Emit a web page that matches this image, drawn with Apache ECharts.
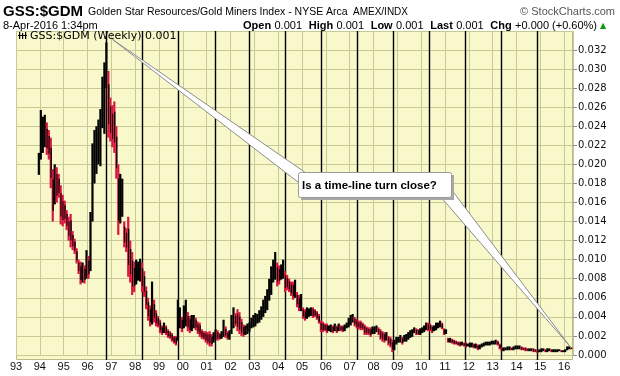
<!DOCTYPE html>
<html><head><meta charset="utf-8">
<script src="https://cdn.jsdelivr.net/npm/echarts@6/dist/echarts.min.js"></script>
<style>html,body{margin:0;padding:0;background:#fff;}#c{width:620px;height:376px;}</style>
</head><body><div id="c"></div><script>
// ---- data (monthly high / low) ----
const firstYear = 1993, firstMonth = 11; // first bar: Dec 1993
const high = [
  0.0212,
  0.0257,0.0250,0.0252,0.0244,0.0236,0.0228,0.0195,0.0200,0.0197,0.0190,0.0178,0.0168, // 1994
  0.0162,0.0152,0.0145,0.0148,0.0130,0.0122,0.0112,0.0100,0.0098,0.0097,0.0094,0.0110, // 1995
  0.0104,0.0150,0.0222,0.0236,0.0240,0.0247,0.0258,0.0292,0.0307,0.0328,0.0298,0.0270, // 1996
  0.0262,0.0266,0.0240,0.0200,0.0190,0.0185,0.0140,0.0133,0.0145,0.0120,0.0108,0.0098, // 1997
  0.0100,0.0098,0.0101,0.0097,0.0088,0.0072,0.0060,0.0052,0.0077,0.0058,0.0047,0.0041, // 1998
  0.0037,0.0031,0.0034,0.0031,0.0027,0.0025,0.0023,0.0020,0.0020,0.0058,0.0050,0.0040, // 1999
  0.0052,0.0058,0.0045,0.0041,0.0042,0.0042,0.0039,0.0035,0.0034,0.0027,0.0025,0.0025, // 2000
  0.0024,0.0025,0.0022,0.0024,0.0027,0.0026,0.0023,0.0025,0.0037,0.0030,0.0025,0.0026, // 2001
  0.0042,0.0050,0.0044,0.0048,0.0045,0.0038,0.0032,0.0031,0.0033,0.0034,0.0039,0.0042, // 2002
  0.0044,0.0043,0.0047,0.0051,0.0058,0.0062,0.0069,0.0080,0.0093,0.0100,0.0108,0.0097, // 2003
  0.0094,0.0095,0.0100,0.0088,0.0084,0.0080,0.0077,0.0077,0.0079,0.0066,0.0063,0.0064, // 2004
  0.0050,0.0048,0.0050,0.0049,0.0050,0.0050,0.0048,0.0046,0.0043,0.0036,0.0035,0.0033, // 2005
  0.0033,0.0031,0.0032,0.0031,0.0033,0.0031,0.0033,0.0031,0.0031,0.0032,0.0034,0.0039, // 2006
  0.0042,0.0043,0.0040,0.0038,0.0036,0.0036,0.0034,0.0032,0.0030,0.0029,0.0029,0.0030, // 2007
  0.0030,0.0031,0.0029,0.0027,0.0025,0.0024,0.0024,0.0020,0.0019,0.0016,0.0016,0.0019, // 2008
  0.0019,0.0021,0.0019,0.0021,0.0022,0.0024,0.0026,0.0027,0.0029,0.0028,0.0027,0.0028, // 2009
  0.0029,0.0031,0.0034,0.0034,0.0033,0.0031,0.0031,0.0034,0.0034,0.0036,0.0034,0.0028, // 2010
  0.0027,0.0018,0.0018,0.0017,0.0016,0.0015,0.0014,0.0014,0.0014,0.0013,0.0013,0.0012, // 2011
  0.0013,0.0013,0.0012,0.0012,0.0011,0.0011,0.0012,0.0013,0.0014,0.0014,0.0014,0.0015, // 2012
  0.0015,0.0016,0.0015,0.0012,0.0008,0.0008,0.0008,0.0009,0.0009,0.0008,0.0009,0.0010, // 2013
  0.0010,0.0010,0.0009,0.0008,0.0008,0.0007,0.0007,0.0007,0.0007,0.0006,0.0005,0.0006, // 2014
  0.0007,0.0007,0.0006,0.0007,0.0007,0.0006,0.0006,0.0006,0.0006,0.0006,0.0005,0.0005, // 2015
  0.0006,0.0009,0.0009,0.0008                                                          // 2016
];
const low = [
  0.0189,
  0.0205,0.0212,0.0218,0.0210,0.0205,0.0175,0.0140,0.0158,0.0160,0.0165,0.0137,0.0135, // 1994
  0.0138,0.0131,0.0120,0.0113,0.0110,0.0106,0.0096,0.0085,0.0074,0.0076,0.0075,0.0080, // 1995
  0.0080,0.0088,0.0140,0.0180,0.0190,0.0200,0.0198,0.0238,0.0232,0.0280,0.0228,0.0224, // 1996
  0.0218,0.0212,0.0185,0.0126,0.0138,0.0145,0.0113,0.0108,0.0082,0.0076,0.0063,0.0066, // 1997
  0.0074,0.0078,0.0077,0.0066,0.0061,0.0048,0.0036,0.0030,0.0032,0.0034,0.0030,0.0029, // 1998
  0.0023,0.0021,0.0023,0.0021,0.0018,0.0017,0.0014,0.0012,0.0010,0.0015,0.0028,0.0024, // 1999
  0.0028,0.0030,0.0025,0.0023,0.0025,0.0028,0.0026,0.0022,0.0019,0.0017,0.0016,0.0013, // 2000
  0.0011,0.0009,0.0009,0.0013,0.0016,0.0015,0.0016,0.0017,0.0019,0.0018,0.0016,0.0016, // 2001
  0.0022,0.0028,0.0030,0.0025,0.0022,0.0020,0.0019,0.0021,0.0022,0.0024,0.0028,0.0029, // 2002
  0.0030,0.0033,0.0034,0.0037,0.0040,0.0044,0.0047,0.0057,0.0063,0.0076,0.0079,0.0072, // 2003
  0.0074,0.0079,0.0080,0.0066,0.0068,0.0066,0.0062,0.0058,0.0060,0.0050,0.0046,0.0046, // 2004
  0.0038,0.0036,0.0038,0.0040,0.0041,0.0039,0.0040,0.0037,0.0033,0.0024,0.0024,0.0025, // 2005
  0.0023,0.0025,0.0024,0.0023,0.0025,0.0023,0.0025,0.0025,0.0024,0.0025,0.0028,0.0029, // 2006
  0.0031,0.0034,0.0030,0.0028,0.0027,0.0026,0.0026,0.0021,0.0021,0.0021,0.0019,0.0022, // 2007
  0.0022,0.0024,0.0021,0.0016,0.0014,0.0013,0.0015,0.0010,0.0008,0.0003,0.0005,0.0011, // 2008
  0.0013,0.0013,0.0011,0.0014,0.0014,0.0016,0.0018,0.0019,0.0023,0.0021,0.0021,0.0021, // 2009
  0.0023,0.0024,0.0026,0.0025,0.0025,0.0023,0.0025,0.0026,0.0028,0.0029,0.0027,0.0021, // 2010
  0.0022,0.0013,0.0013,0.0012,0.0011,0.0011,0.0010,0.0009,0.0010,0.0009,0.0008,0.0009, // 2011
  0.0008,0.0008,0.0007,0.0007,0.0005,0.0006,0.0008,0.0009,0.0010,0.0010,0.0010,0.0011, // 2012
  0.0011,0.0011,0.0010,0.0006,0.0004,0.0004,0.0005,0.0005,0.0005,0.0005,0.0005,0.0006, // 2013
  0.0006,0.0006,0.0005,0.0005,0.0004,0.0004,0.0004,0.0004,0.0003,0.0003,0.0002,0.0003, // 2014
  0.0003,0.0004,0.0003,0.0003,0.0004,0.0003,0.0003,0.0003,0.0003,0.0004,0.0003,0.0003, // 2015
  0.0003,0.0005,0.0006,0.0006                                                          // 2016
];
// author's vertical "time-lines" (decimal years)
const timeLines = [1996.79, 1998.30, 1999.81, 2001.33, 2002.79, 2004.30, 2005.81,
                   2007.32, 2008.83, 2010.33, 2011.84, 2013.35, 2014.88];
// callout anchors [decimal year, value]
const calloutTips = [[1997.05, 0.0331], [2016.26, 0.00085]];
const calloutText = 'Is a time-line turn close?';
const xMin = 1993, xMax = 2016.37, yMin = 0, yMax = 0.03399, yStep = 0.002;

const titleSym = 'GSS:$GDM';
const titleName = 'Golden Star Resources/Gold Miners Index - NYSE Arca';
const titleExch = 'AMEX/INDX';
const dateText = '8-Apr-2016 1:34pm';
const legendText = 'GSS:$GDM (Weekly) 0.001';

// ---- build ----
const RED = '#D8173F', BLACK = '#000000';
const bars = [];
{
  let y = firstYear, m = firstMonth;
  for (let i = 0; i < high.length; i++) {
    const t = y + (m + 0.5) / 12;
    const mid = (high[i] + low[i]) / 2;
    const prev = i ? (high[i - 1] + low[i - 1]) / 2 : mid;
    bars.push([t, high[i], low[i], mid < prev ? 1 : 0]);
    m++; if (m === 12) { m = 0; y++; }
  }
}

const chart = echarts.init(document.getElementById('c'), null, {renderer: 'canvas', width: 620, height: 376});
const GRID = '#C9C996';
const option = {
  animation: false,
  backgroundColor: '#ffffff',
  grid: {left: 16, right: 47, top: 31, bottom: 21, show: false, containLabel: false, outerBoundsMode: 'none'},
  xAxis: {
    type: 'value', min: xMin, max: xMax, interval: 1, offset: 5,
    axisLine: {show: false}, axisTick: {show: false},
    axisLabel: {
      showMaxLabel: false, margin: 1, color: '#111',
      fontFamily: 'Liberation Sans', fontSize: 11,
      formatter: v => Number.isInteger(v) ? String(v % 100).padStart(2, '0') : ''
    },
    splitLine: {show: true, lineStyle: {color: GRID, width: 1}}
  },
  yAxis: {
    type: 'value', position: 'right', min: yMin, max: yMax, interval: yStep,
    axisLine: {show: false},
    axisTick: {show: true, length: 4, lineStyle: {color: '#8a8a8a'}},
    axisLabel: {
      showMaxLabel: false, margin: 5, color: '#111',
      fontFamily: 'DejaVu Sans', fontSize: 10,
      formatter: v => v.toFixed(3)
    },
    splitLine: {show: true, lineStyle: {color: GRID, width: 1}}
  },
  series: [
    {
      type: 'custom', name: 'timelines', coordinateSystem: 'cartesian2d', z: 3, silent: true,
      data: timeLines.map(t => [t, 0]), encode: {x: 0, y: 1}, clip: false,
      renderItem(params, api) {
        const p = api.coord([api.value(0), 0]);
        const cs = params.coordSys;
        const x = Math.round(p[0]) + 0.5;
        return {type: 'line', shape: {x1: x, y1: cs.y, x2: x, y2: cs.y + cs.height + 5},
                style: {stroke: '#000', lineWidth: 1.4}};
      }
    },
    {
      type: 'custom', name: 'GSS:$GDM', coordinateSystem: 'cartesian2d', z: 4, silent: true,
      data: bars, encode: {x: 0, y: [1, 2]},
      renderItem(params, api) {
        const x = api.value(0), hi = api.value(1), lo = api.value(2), dn = api.value(3);
        const a = api.coord([x, hi]), b = api.coord([x, lo]);
        const h = Math.max(1, b[1] - a[1]);
        if (!dn) {
          return {type: 'rect', shape: {x: a[0] - 1.1, y: a[1], width: 2.2, height: h}, style: {fill: BLACK}};
        }
        return {type: 'group', children: [
          {type: 'rect', shape: {x: a[0] - 1.1, y: a[1], width: 2.2, height: h}, style: {fill: RED}},
          {type: 'rect', shape: {x: a[0] - 0.2, y: a[1] + h * 0.2, width: 1.3, height: h * 0.6}, style: {fill: BLACK}}
        ]};
      }
    }
  ]
};
chart.setOption(option);

// ---- decorations / texts ----
const tipA = chart.convertToPixel({gridIndex: 0}, calloutTips[0]);
const tipB = chart.convertToPixel({gridIndex: 0}, calloutTips[1]);
const box = {x: 298, y: 172, w: 153, h: 25};

const graphics = [
  {type: 'rect', z: -10, silent: true, shape: {x: 16.5, y: 31.5, width: 556, height: 328},
   style: {fill: '#F8F8CB', stroke: '#B9B98A', lineWidth: 1}},
  // header
  {type: 'text', z: 20, x: 3, y: 12, style: {text: titleSym, font: 'bold 15px "Liberation Sans"', fill: '#000', verticalAlign: 'middle'}},
  {type: 'text', z: 20, x: 88, y: 12, style: {text: titleName, font: '10.5px "Liberation Sans"', fill: '#000', verticalAlign: 'middle'}},
  {type: 'text', z: 20, x: 353, y: 12, style: {text: titleExch, font: '10px "Liberation Sans"', fill: '#000', verticalAlign: 'middle'}},
  {type: 'text', z: 20, x: 615, y: 12, style: {text: '© StockCharts.com', font: '11px "Liberation Sans"', fill: '#555', align: 'right', verticalAlign: 'middle'}},
  {type: 'text', z: 20, x: 3, y: 26, style: {text: dateText, font: '11px "Liberation Sans"', fill: '#000', verticalAlign: 'middle'}},
  {type: 'text', z: 20, x: 597, y: 26, style: {
    text: '{b|Open} {n|0.001}  {b|High} {n|0.001}  {b|Low} {n|0.001}  {b|Last} {n|0.001}  {b|Chg} {n|+0.000 (+0.60%)}',
    align: 'right', verticalAlign: 'middle',
    rich: {b: {font: 'bold 11px "Liberation Sans"', fill: '#000'}, n: {font: '11px "Liberation Sans"', fill: '#000'}}
  }},
  {type: 'text', z: 20, x: 600, y: 26, style: {text: '▲', font: '8px "DejaVu Sans"', fill: '#0a9a0a', verticalAlign: 'middle'}},
  // legend inside plot
  {type: 'rect', z: 20, shape: {x: 19, y: 32, width: 1.2, height: 7}, style: {fill: '#000'}},
  {type: 'rect', z: 20, shape: {x: 22, y: 33, width: 1.2, height: 6}, style: {fill: '#000'}},
  {type: 'rect', z: 20, shape: {x: 25, y: 32, width: 1.2, height: 7}, style: {fill: '#000'}},
  {type: 'rect', z: 20, shape: {x: 18, y: 35, width: 9, height: 1}, style: {fill: '#000'}},
  {type: 'text', z: 20, x: 30, y: 36, style: {text: legendText, font: '11px "DejaVu Sans"', fill: '#000', verticalAlign: 'middle'}},
  // callout pointers
  {type: 'polygon', z: 30, shape: {points: [tipA, [306, 173], [298, 182]]},
   style: {fill: '#ffffff', stroke: '#8c8c8c', lineWidth: 1}},
  {type: 'polygon', z: 30, shape: {points: [tipB, [440, 196], [451, 189]]},
   style: {fill: '#ffffff', stroke: '#8c8c8c', lineWidth: 1}},
  // callout box with shadow
  {type: 'rect', z: 31, shape: {x: box.x + 3, y: box.y + 3, width: box.w, height: box.h}, style: {fill: '#a8a8a8'}},
  {type: 'rect', z: 32, shape: {x: box.x + 0.5, y: box.y + 0.5, width: box.w, height: box.h, r: 2},
   style: {fill: '#ffffff', stroke: '#9a9a9a', lineWidth: 1}},
  {type: 'text', z: 33, x: box.x + 4, y: box.y + box.h / 2 + 1, style: {text: calloutText, font: 'bold 11.5px "Liberation Sans"', fill: '#000', verticalAlign: 'middle'}}
];
chart.setOption({graphic: graphics});
</script></body></html>
